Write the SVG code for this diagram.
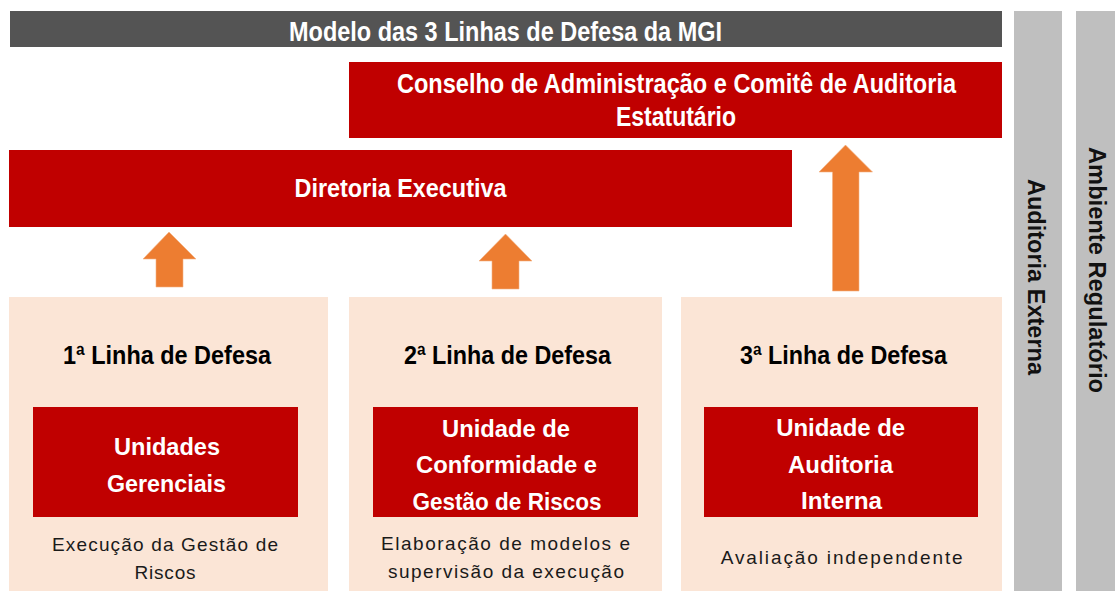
<svg xmlns="http://www.w3.org/2000/svg" width="1115" height="591" viewBox="0 0 1115 591">
<style>
.bar{fill:#545454}
.red{fill:#c00000}
.peach{fill:#fbe5d6}
.gray{fill:#bfbfbf}
.arrow{fill:#ed7d31;stroke:#f4b183;stroke-width:0.6}
.cond{font-family:"Liberation Sans Narrow","Liberation Sans",Arial,sans-serif;font-weight:bold;text-anchor:middle}
.w{fill:#ffffff}
.k{fill:#000000}
.box{font-family:"Liberation Sans",Arial,sans-serif;font-weight:bold;font-size:24px;fill:#ffffff;text-anchor:middle}
.desc{font-family:"Liberation Sans",Arial,sans-serif;font-size:19px;fill:#1a1a1a;text-anchor:middle}
.vert{font-family:"Liberation Sans",Arial,sans-serif;font-weight:bold;font-size:24px;fill:#111111;text-anchor:middle}
</style>
<rect width="1115" height="591" fill="#ffffff"/>

<g id="title">
<rect class="bar" x="10" y="11" width="992" height="36"/>
<text class="cond w" x="505.5" y="41" font-size="28" textLength="433" lengthAdjust="spacingAndGlyphs">Modelo das 3 Linhas de Defesa da MGI</text>
</g>

<g id="auditoria-externa">
<rect class="gray" x="1014" y="11" width="48" height="580"/>
<text class="vert" transform="translate(1036,277) rotate(90)" x="0" y="8.5" textLength="196" lengthAdjust="spacingAndGlyphs">Auditoria Externa</text>
</g>

<g id="ambiente-regulatorio">
<rect class="gray" x="1076" y="11" width="39" height="580"/>
<text class="vert" transform="translate(1097,270) rotate(90)" x="0" y="8.5" textLength="246" lengthAdjust="spacingAndGlyphs">Ambiente Regulatório</text>
</g>

<g id="conselho">
<rect class="red" x="349" y="62" width="653" height="76"/>
<text class="cond w" x="676.5" y="93" font-size="28" textLength="559" lengthAdjust="spacingAndGlyphs">Conselho de Administração e Comitê de Auditoria</text>
<text class="cond w" x="676" y="126" font-size="28" textLength="120" lengthAdjust="spacingAndGlyphs">Estatutário</text>
</g>

<g id="diretoria">
<rect class="red" x="9" y="150" width="783" height="77"/>
<text class="cond w" x="400.5" y="197" font-size="26" textLength="212" lengthAdjust="spacingAndGlyphs">Diretoria Executiva</text>
</g>

<g id="linha1">
<rect class="peach" x="9" y="297" width="319" height="294"/>
<text class="cond k" x="167" y="364" font-size="26" textLength="208" lengthAdjust="spacingAndGlyphs">1ª Linha de Defesa</text>
<rect class="red" x="33" y="407" width="265" height="110"/>
<text class="box" x="167" y="455" textLength="106" lengthAdjust="spacingAndGlyphs">Unidades</text>
<text class="box" x="166.5" y="492" textLength="119" lengthAdjust="spacingAndGlyphs">Gerenciais</text>
<text class="desc" x="165" y="551" textLength="226" lengthAdjust="spacing">Execução da Gestão de</text>
<text class="desc" x="165" y="579" textLength="61" lengthAdjust="spacing">Riscos</text>
</g>

<g id="linha2">
<rect class="peach" x="349" y="297" width="313" height="294"/>
<text class="cond k" x="507.5" y="364" font-size="26" textLength="207" lengthAdjust="spacingAndGlyphs">2ª Linha de Defesa</text>
<rect class="red" x="373" y="407" width="265" height="110"/>
<text class="box" x="506" y="437" textLength="128" lengthAdjust="spacingAndGlyphs">Unidade de</text>
<text class="box" x="506.5" y="473" textLength="181" lengthAdjust="spacingAndGlyphs">Conformidade e</text>
<text class="box" x="507" y="510" textLength="189" lengthAdjust="spacingAndGlyphs">Gestão de Riscos</text>
<text class="desc" x="505.5" y="550" textLength="249" lengthAdjust="spacing">Elaboração de modelos e</text>
<text class="desc" x="506" y="578" textLength="236" lengthAdjust="spacing">supervisão da execução</text>
</g>

<g id="linha3">
<rect class="peach" x="681" y="297" width="321" height="294"/>
<text class="cond k" x="843.5" y="364" font-size="26" textLength="207" lengthAdjust="spacingAndGlyphs">3ª Linha de Defesa</text>
<rect class="red" x="704" y="407" width="274" height="110"/>
<text class="box" x="840.7" y="436" textLength="129" lengthAdjust="spacingAndGlyphs">Unidade de</text>
<text class="box" x="840.5" y="473" textLength="105" lengthAdjust="spacingAndGlyphs">Auditoria</text>
<text class="box" x="841.5" y="509" textLength="81" lengthAdjust="spacingAndGlyphs">Interna</text>
<text class="desc" x="841.7" y="564" textLength="242" lengthAdjust="spacing">Avaliação independente</text>
</g>

<g id="connectors">
<polygon class="arrow" points="169,232 196,259 183,259 183,287 156,287 156,259 143,259"/>
<polygon class="arrow" points="505.5,234 532,261 519,261 519,289 492,289 492,261 479,261"/>
<polygon class="arrow" points="845.5,145 872.5,172 859,172 859,291 832.5,291 832.5,172 819,172"/>
</g>
</svg>
